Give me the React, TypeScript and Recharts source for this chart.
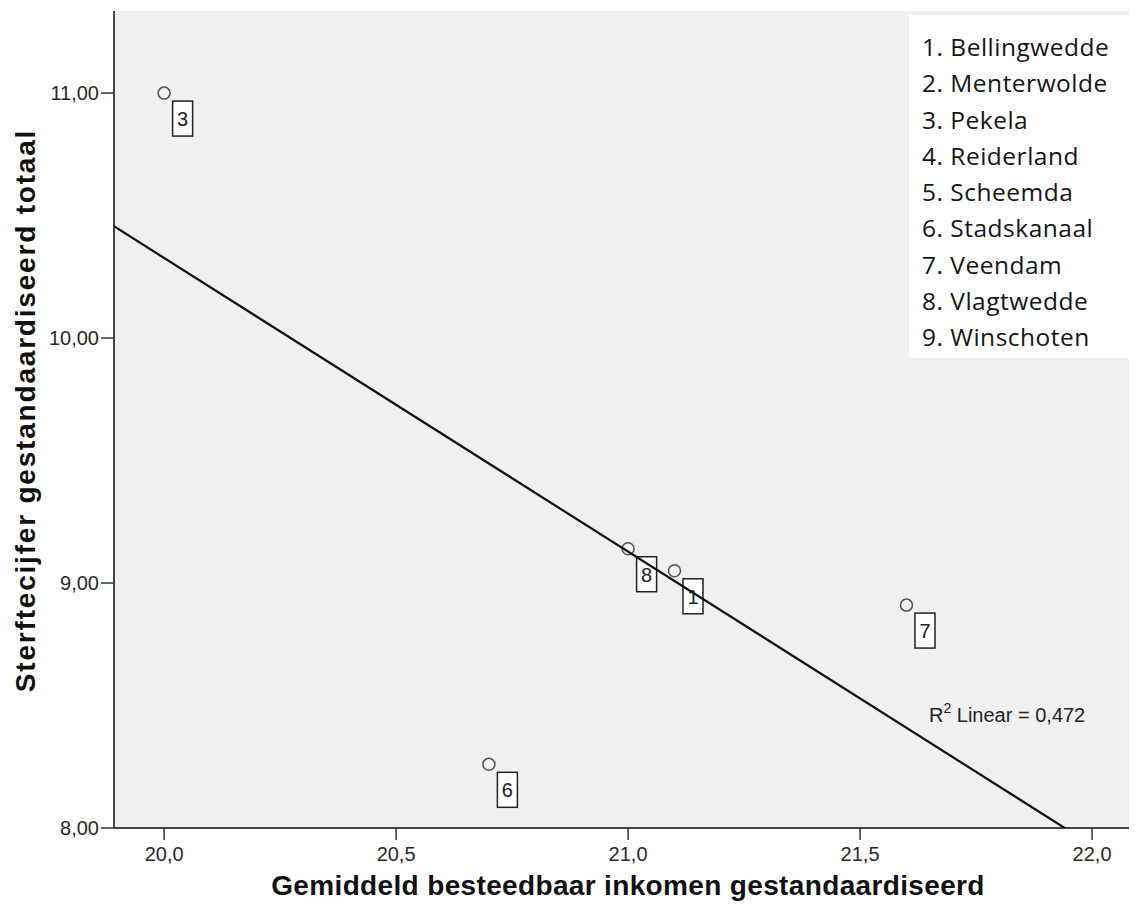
import { ScatterChart, Scatter, XAxis, YAxis, CartesianGrid, ReferenceLine } from 'recharts';

// gemeente nummers (zie legenda), inkomen en sterftecijfer
const gemeenteNummers = [3, 8, 1, 7, 6];
const inkomen = [20.0, 21.0, 21.1, 21.6, 20.7];
const sterftecijfer = [11.0, 9.14, 9.05, 8.91, 8.26];

const gemeenten = [
  '1. Bellingwedde',
  '2. Menterwolde',
  '3. Pekela',
  '4. Reiderland',
  '5. Scheemda',
  '6. Stadskanaal',
  '7. Veendam',
  '8. Vlagtwedde',
  '9. Winschoten',
];

const xTicks = [20.0, 20.5, 21.0, 21.5, 22.0];
const yTicks = [8, 9, 10, 11];
const xDomain = [19.892, 22.099];
const yDomain = [8, 11.335];

const punten = gemeenteNummers.map((nr, i) => ({ nr, x: inkomen[i], y: sterftecijfer[i] }));

// lineaire regressie (kleinste kwadraten)
const n = punten.length;
const gemX = inkomen.reduce((a, b) => a + b, 0) / n;
const gemY = sterftecijfer.reduce((a, b) => a + b, 0) / n;
let sxy = 0;
let sxx = 0;
for (let i = 0; i < n; i++) {
  sxy += (inkomen[i] - gemX) * (sterftecijfer[i] - gemY);
  sxx += (inkomen[i] - gemX) ** 2;
}
const helling = sxy / sxx;
const intercept = gemY - helling * gemX;
const lijn = [
  { x: xDomain[0], y: intercept + helling * xDomain[0] },
  { x: xDomain[1], y: intercept + helling * xDomain[1] },
];

const font = '"Liberation Sans", Arial, sans-serif';

function PuntMetLabel(props: any) {
  const { cx, cy, payload } = props;
  return (
    <g>
      <circle cx={cx} cy={cy} r={6} fill="none" stroke="#555" strokeWidth={1.6} />
      <rect x={cx + 8.5} y={cy + 8} width={20} height={35} fill="#fff" stroke="#222" strokeWidth={1.5} />
      <text
        x={cx + 18.5}
        y={cy + 26}
        textAnchor="middle"
        dominantBaseline="central"
        fontSize={20}
        fontFamily={font}
        fill="#222"
      >
        {payload.nr}
      </text>
    </g>
  );
}

function YTitel(props: any) {
  const { viewBox } = props;
  const cy = viewBox.y + viewBox.height / 2 - 9;
  return (
    <text
      x={17}
      y={cy}
      transform={`rotate(-90, 17, ${cy})`}
      textAnchor="middle"
      dominantBaseline="central"
      fontSize={28}
      fontWeight="bold"
      letterSpacing={1.8}
      fontFamily={font}
      fill="#111"
    >
      Sterftecijfer gestandaardiseerd totaal
    </text>
  );
}

function XTitel(props: any) {
  const { viewBox } = props;
  const cx = viewBox.x + viewBox.width / 2;
  return (
    <text
      x={cx + 2}
      y={877}
      textAnchor="middle"
      dominantBaseline="central"
      fontSize={28}
      fontWeight="bold"
      letterSpacing={0.35}
      fontFamily={font}
      fill="#111"
    >
      Gemiddeld besteedbaar inkomen gestandaardiseerd
    </text>
  );
}

export default function App() {
  return (
    <div style={{ position: 'relative', width: 1129, height: 907, overflow: 'hidden', fontFamily: font }}>
      <ScatterChart width={1150} height={907} margin={{ top: 3, right: 20, bottom: 0, left: 0 }}>
        <CartesianGrid fill="#f0f0f0" horizontal={false} vertical={false} />
        <XAxis
          xAxisId="boven"
          orientation="top"
          type="number"
          dataKey="x"
          domain={xDomain}
          allowDataOverflow
          height={0}
          tick={false}
          tickLine={false}
          axisLine={{ stroke: '#444', strokeWidth: 2 }}
        />
        <XAxis
          type="number"
          dataKey="x"
          domain={xDomain}
          allowDataOverflow
          ticks={xTicks}
          tickFormatter={(v: number) => v.toFixed(1).replace('.', ',')}
          height={87}
          tickSize={12}
          tickMargin={7}
          axisLine={{ stroke: '#444', strokeWidth: 2 }}
          tickLine={{ stroke: '#333', strokeWidth: 1.5 }}
          tick={{ fontSize: 20, fill: '#2a2a2a', fontFamily: font }}
          label={{ content: XTitel }}
        />
        <YAxis
          type="number"
          dataKey="y"
          domain={yDomain}
          allowDataOverflow
          ticks={yTicks}
          tickFormatter={(v: number) => v.toFixed(2).replace('.', ',')}
          width={106}
          tickSize={13}
          tickMargin={2}
          axisLine={{ stroke: '#444', strokeWidth: 2 }}
          tickLine={{ stroke: '#333', strokeWidth: 1.5 }}
          tick={{ fontSize: 20, fill: '#2a2a2a', fontFamily: font }}
          label={{ content: YTitel }}
        />
        <Scatter data={punten} shape={PuntMetLabel} isAnimationActive={false} />
        <ReferenceLine
          segment={lijn}
          ifOverflow="hidden"
          stroke="#111"
          strokeWidth={2.2}
          zIndex={700}
        />
      </ScatterChart>

      <div
        style={{
          position: 'absolute',
          left: 901,
          top: 7,
          width: 230,
          height: 343,
          background: '#fff',
          boxSizing: 'border-box',
          padding: '14px 0 0 13px',
          fontFamily: '"Open Sans", "Noto Sans", sans-serif',
          fontSize: 24.5,
          letterSpacing: 0.5,
          lineHeight: '36.25px',
          color: '#151515',
        }}
      >
        {gemeenten.map((g) => (
          <div key={g} style={{ whiteSpace: 'nowrap' }}>{g}</div>
        ))}
      </div>

      <div
        style={{
          position: 'absolute',
          left: 921,
          top: 694,
          fontSize: 20,
          color: '#222',
          fontFamily: font,
          whiteSpace: 'nowrap',
          lineHeight: '26px',
        }}
      >
        R<sup style={{ fontSize: 14, verticalAlign: 'top', lineHeight: '12px' }}>2</sup> Linear = 0,472
      </div>
    </div>
  );
}
